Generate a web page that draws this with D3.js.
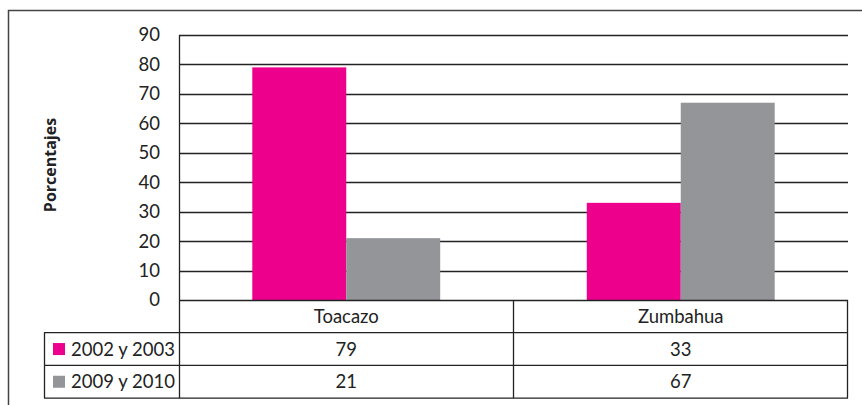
<!DOCTYPE html>
<html><head><meta charset="utf-8">
<script src="https://cdn.jsdelivr.net/npm/d3@7"></script>
<style>body{margin:0;background:#fff}svg{display:block}text{font-family:Lato,"Open Sans",sans-serif;fill:#222}</style>
</head><body>
<script>
const categories = ["Toacazo", "Zumbahua"];
const seriesNames = ["2002 y 2003", "2009 y 2010"];
const series1 = [79, 33];
const series2 = [21, 67];
const yTicks = [0, 10, 20, 30, 40, 50, 60, 70, 80, 90];
const colors = ["#EC008C", "#939598"];

(function(){
const W = 862, H = 405;
const FS = "18.5px";
const svg = d3.select("body").append("svg").attr("width", W).attr("height", H);
const pLeft = 179, pRight = 848, pTop = 35, pBottom = 300;
const y = d3.scaleLinear().domain([0, 90]).range([pBottom, pTop]);
const x0 = d3.scaleBand().domain(categories).range([pLeft, pRight]).paddingInner(0).paddingOuter(0);
const x1 = d3.scaleBand().domain(seriesNames).range([0, x0.bandwidth()]).paddingOuter(0.78).paddingInner(0);
const values = [series1, series2];

// outer frame
svg.append("path").attr("d", `M8.5,${H} V10.5 H${W}`).attr("fill","none").attr("stroke","#444").attr("stroke-width",1.5);

// gridlines
svg.append("g").selectAll("line").data(yTicks.filter(d=>d>0)).join("line")
  .attr("x1", pLeft).attr("x2", pRight).attr("y1", d=>Math.round(y(d))+0.5).attr("y2", d=>Math.round(y(d))+0.5)
  .attr("stroke","#222").attr("stroke-width",1.3);

// bars
categories.forEach((c, ci) => {
  seriesNames.forEach((s, si) => {
    svg.append("rect").attr("x", x0(c)+x1(s)).attr("width", x1.bandwidth())
      .attr("y", y(values[si][ci])).attr("height", pBottom - y(values[si][ci]))
      .attr("fill", colors[si]);
  });
});

// y axis
const yAxis = d3.axisLeft(y).tickValues(yTicks).tickSize(0).tickPadding(19);
const ga = svg.append("g").attr("transform", `translate(${pLeft},0)`).call(yAxis);
ga.select(".domain").remove();
ga.selectAll("text").style("font-size",FS).style("fill","#222").style("font-family","Lato, 'Open Sans', sans-serif");
svg.append("line").attr("x1", pLeft+0.5).attr("x2", pLeft+0.5).attr("y1", pTop).attr("y2", 398).attr("stroke","#222").attr("stroke-width",1.3);

// y title
svg.append("text").attr("transform", `translate(56,${(112+218)/2}) rotate(-90)`)
  .attr("text-anchor","middle").style("font-family","'Open Sans', sans-serif").style("font-size","16px").style("font-weight","bold").text("Porcentajes");

// data table
const rowH = 32.7;
const tableLines = svg.append("g").attr("stroke","#222").attr("stroke-width",1.3);
tableLines.append("line").attr("x1", pLeft).attr("x2", pRight).attr("y1", pBottom+0.5).attr("y2", pBottom+0.5);
[1,2,3].forEach(i => {
  tableLines.append("line").attr("x1", 44).attr("x2", pRight).attr("y1", pBottom+i*rowH).attr("y2", pBottom+i*rowH);
});
tableLines.append("line").attr("x1", 44.5).attr("x2", 44.5).attr("y1", pBottom+rowH).attr("y2", pBottom+3*rowH);
tableLines.append("line").attr("x1", pRight-0.5).attr("x2", pRight-0.5).attr("y1", pBottom).attr("y2", pBottom+3*rowH);
tableLines.append("line").attr("x1", x0(categories[1])).attr("x2", x0(categories[1])).attr("y1", pBottom).attr("y2", pBottom+3*rowH);

// category labels
svg.append("g").selectAll("text").data(categories).join("text")
  .attr("x", d=>x0(d)+x0.bandwidth()/2).attr("y", pBottom+rowH/2+6.5)
  .attr("text-anchor","middle").style("font-size",FS).text(d=>d);

// rows
seriesNames.forEach((s, si) => {
  const cy = pBottom + (si+1)*rowH + rowH/2;
  svg.append("rect").attr("x", 53).attr("y", cy-6).attr("width", 12).attr("height", 12).attr("fill", colors[si]);
  svg.append("text").attr("x", 71).attr("y", cy+6.5).style("font-size",FS).text(s);
  categories.forEach((c, ci) => {
    svg.append("text").attr("x", x0(c)+x0.bandwidth()/2).attr("y", cy+6.5)
      .attr("text-anchor","middle").style("font-size",FS).text(values[si][ci]);
  });
});
})();
</script>
</body></html>
